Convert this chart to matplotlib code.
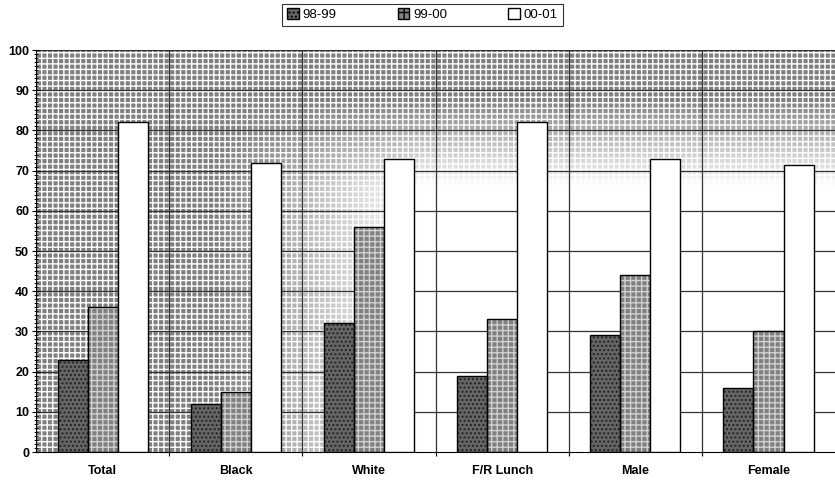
import numpy as np
import matplotlib
matplotlib.use("Agg")
import matplotlib.pyplot as plt
from matplotlib.patches import Patch, Rectangle

categories = ["Total", "Black", "White", "F/R Lunch", "Male", "Female"]
series_names = ["98-99", "99-00", "00-01"]
vals_9899 = [23, 12, 32, 19, 29, 16]
vals_9900 = [36, 15, 56, 33, 44, 30]
vals_0001 = [82, 72, 73, 82, 73, 71.5]

plt.rcParams['font.family'] = ['Liberation Sans', 'DejaVu Sans']

fig = plt.figure(figsize=(8.35, 4.82), dpi=100)
ax = fig.add_axes([0.0431, 0.0622, 0.957, 0.834])

# textured background: dense along the top and the left, white toward lower right
ny, nx = 200, 400
yy, xx = np.mgrid[1:0:ny * 1j, 0:1:nx * 1j]
top = np.clip((yy - 0.66) / 0.22, 0, 1)
left = np.clip((0.48 - xx) / 0.26, 0, 1)
dens = 1 - (1 - top) * (1 - left)
bg = 1 - 0.5 * dens
ax.imshow(bg, cmap="gray", vmin=0, vmax=1, extent=[0, 1, 0, 1],
          transform=ax.transAxes, aspect="auto", zorder=0, interpolation="bilinear")
ax.add_patch(Rectangle((0, 0), 1, 1, transform=ax.transAxes, fill=False,
                       hatch="+++", edgecolor="white", lw=0, zorder=0.5))

x = np.arange(len(categories))
w = 0.2256

# grid
for v in range(10, 101, 10):
    ax.axhline(v, color="#333333", lw=0.9, zorder=1)
for b in np.arange(0.5, len(categories) - 0.5, 1):
    ax.axvline(b, color="#333333", lw=0.9, zorder=1)

# bars
ax.bar(x - w, vals_9899, w, color="#666666", edgecolor="#222222", hatch="....", lw=0, zorder=2)
ax.bar(x - w, vals_9899, w, fill=False, edgecolor="black", lw=1, zorder=3)
ax.bar(x, vals_9900, w, color="#808080", edgecolor="#d0d0d0", hatch="+++", lw=0, zorder=2)
ax.bar(x, vals_9900, w, fill=False, edgecolor="black", lw=1, zorder=3)
ax.bar(x + w, vals_0001, w, color="white", edgecolor="black", lw=1, zorder=3)

ax.set_xlim(-0.5, len(categories) - 0.5)
ax.set_ylim(0, 100)
ax.set_yticks(range(0, 101, 10))
ax.set_yticks(range(0, 101, 1), minor=True)
ax.tick_params(axis="y", which="major", direction="inout", length=6, labelsize=9, pad=2)
ax.tick_params(axis="y", which="minor", direction="inout", length=3)
for t in ax.get_yticklabels():
    t.set_fontweight("bold")

ax.set_xticks(np.arange(0.5, len(categories) - 0.5, 1))
ax.set_xticklabels([])
ax.tick_params(axis="x", which="major", direction="out", length=3)
ax.set_xticks(x, minor=True)
ax.set_xticklabels(categories, minor=True, fontsize=9, fontweight="bold")
ax.tick_params(axis="x", which="minor", length=0, pad=9)

for s in ["top", "right"]:
    ax.spines[s].set_visible(False)
ax.spines["left"].set_color("black")
ax.spines["bottom"].set_color("black")

handles = [
    Patch(facecolor="#666666", edgecolor="black", hatch="...."),
    Patch(facecolor="#808080", edgecolor="black", hatch="++"),
    Patch(facecolor="white", edgecolor="black"),
]
leg = fig.legend(handles, series_names, loc="center", bbox_to_anchor=(0.506, 0.969),
                 ncol=3, fontsize=9.5, frameon=True, fancybox=False, handlelength=0.9,
                 handleheight=0.9, handletextpad=0.3, columnspacing=4.6,
                 borderpad=0.35, edgecolor="black")
leg.get_frame().set_linewidth(0.8)

fig.savefig("out.png", dpi=100)
